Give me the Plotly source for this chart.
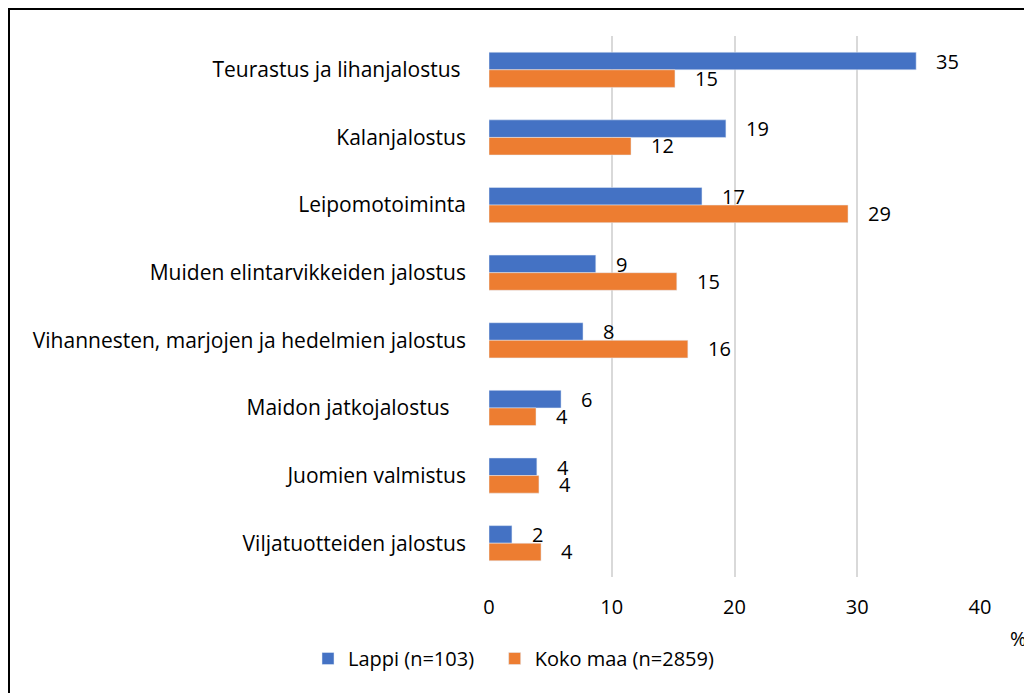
import plotly.graph_objects as go

categories = [
    "Teurastus ja lihanjalostus\u00a0",
    "Kalanjalostus",
    "Leipomotoiminta",
    "Muiden elintarvikkeiden jalostus",
    "Vihannesten, marjojen ja hedelmien jalostus",
    "Maidon jatkojalostus\u00a0\u00a0\u00a0",
    "Juomien valmistus",
    "Viljatuotteiden jalostus",
]
lappi_values = [34.8, 19.3, 17.35, 8.7, 7.66, 5.87, 3.9, 1.87]
koko_values = [15.15, 11.57, 29.25, 15.3, 16.2, 3.83, 4.07, 4.24]
lappi_labels = ["35", "19", "17", "9", "8", "6", "4", "2"]
koko_labels = ["15", "12", "29", "15", "16", "4", "4", "4"]
series_names = ["Lappi (n=103)\u00a0\u00a0\u00a0", "Koko maa (n=2859)"]
x_ticks = [0, 10, 20, 30, 40]

FONT = "Open Sans"
FS = 20
BLUE = "#4472C4"
ORANGE = "#ED7D31"

# figure is placed 8px from the page corner (body margin)
W, H = 1024, 685
L, R, T, B = 481, 52, 28, 116
pw, ph = W - L - R, H - T - B


def px_x(px):
    return (px - L) / pw


def px_y(py):
    return (H - B - py) / ph


fig = go.Figure()
fig.add_trace(go.Bar(y=categories, x=lappi_values, orientation="h", name=series_names[0],
                     marker=dict(color=BLUE), offsetgroup="a"))
fig.add_trace(go.Bar(y=categories, x=koko_values, orientation="h", name=series_names[1],
                     marker=dict(color=ORANGE), offsetgroup="b"))

annotations = []
for vals, labs, shift in ((lappi_values, lappi_labels, -8.5), (koko_values, koko_labels, 8.5)):
    for c, v, t in zip(categories, vals, labs):
        annotations.append(dict(x=v, y=c, text=t, xref="x", yref="y", showarrow=False,
                                xanchor="left", yanchor="middle", xshift=18, yshift=-shift,
                                font=dict(family=FONT, size=FS, color="#000000")))
annotations.append(dict(x=px_x(1000), y=px_y(630), xref="paper", yref="paper", text="%",
                        showarrow=False, xanchor="left", yanchor="middle",
                        font=dict(family=FONT, size=FS, color="#000000")))

fig.update_layout(
    width=W, height=H,
    margin=dict(l=L, r=R, t=T, b=B),
    paper_bgcolor="white", plot_bgcolor="white",
    barmode="group", bargap=0.48, bargroupgap=0,
    font=dict(family=FONT, size=FS, color="#000000"),
    showlegend=True,
    legend=dict(orientation="h", xref="container", x=300 / W, xanchor="left",
                yref="container", y=1 - 631 / H, yanchor="top",
                font=dict(family=FONT, size=FS), itemwidth=30, traceorder="normal"),
    xaxis=dict(range=[0, 40], tickvals=x_ticks, showgrid=True, gridcolor="#D9D9D9",
               gridwidth=1.5, zeroline=False, showline=False, ticks="",
               ticklabelstandoff=16, tickfont=dict(family=FONT, size=FS)),
    yaxis=dict(autorange="reversed", showgrid=False, zeroline=False, showline=False,
               ticks="", ticklabelstandoff=22, tickfont=dict(family=FONT, size=21)),
    annotations=annotations,
    shapes=[dict(type="rect", xref="paper", yref="paper",
                 x0=px_x(1), x1=px_x(1040), y0=px_y(700), y1=px_y(1),
                 line=dict(color="black", width=2), layer="below")],
)

fig.write_html("out.html")
